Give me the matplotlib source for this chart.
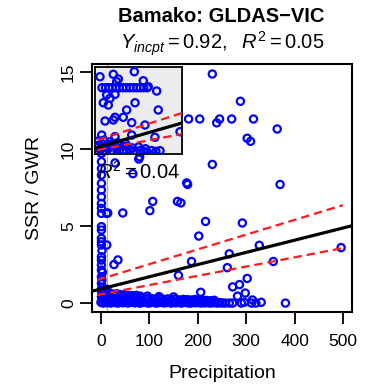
import matplotlib
matplotlib.use("Agg")
import matplotlib.pyplot as plt

plt.rcParams['font.family'] = ['Liberation Sans', 'DejaVu Sans']
plt.rcParams['mathtext.fontset'] = 'custom'
plt.rcParams['mathtext.rm'] = 'Liberation Sans'
plt.rcParams['mathtext.it'] = 'Liberation Sans:italic'

# ---------------- data ----------------
title = "Bamako: GLDAS\u2212VIC"
subtitle = r"$Y_{incpt} = 0.92,\ \ R^2 = 0.05$"
inset_text = r"$R^2 = 0.04$"
xlabel = "Precipitation"
ylabel = "SSR / GWR"
xticks = [0, 100, 200, 300, 400, 500]
yticks = [0, 5, 10, 15]

# scattered points
scatter_x = [230, 288, 181, 204, 245, 239, 270, 315, 364, 302, 309, 230, 179, 370,
             29, 78, 66, 177, 107, 101, 158, 45, 14, 35, 27, 160,
             165, 216, 292, 202, 327, 265, 187, 356, 496, 261, 302, 286, 272,
             206, 298, 282, 80]
scatter_y = [14.87, 13.1, 11.95, 11.95, 11.95, 11.7, 11.95, 11.95, 11.3, 10.7, 10.5, 9.0, 7.7, 7.7,
             9.1, 9.35, 8.4, 7.8, 6.6, 6.0, 6.6, 5.85, 5.85, 2.8, 2.5, 1.8,
             6.5, 5.3, 5.2, 4.35, 3.75, 3.2, 2.7, 2.7, 3.6, 2.3, 1.6, 1.2, 1.05,
             0.7, 0.65, 0.45, 9.5]

# column of points at very low precipitation
column_x = [1, 1, 1, 1, 1, 1,
            1, 1, 1, 1, 1, 1,
            1, 1, 1, 1, 1, 1,
            1, 1, 1, 1, 1, 1,
            12, 12, 12, 2, 2, 2, 3, 3]
column_y = [9.9, 9.72, 9.18, 8.74, 8.31, 7.77,
            7.34, 6.9, 6.47, 6.15, 5.82, 4.96,
            4.74, 4.2, 3.98, 3.77, 3.01, 2.79,
            2.47, 2.14, 1.71, 1.28, 0.84, 0.41,
            5.82, 3.77, 0.9, 3.4, 1.5, 1.0, 2.0, 0.6]

# dense band of points near zero
band_x = [0, 4, 8, 12, 16, 20, 25, 30, 35, 40, 45, 50, 55, 60, 65, 70, 75, 80, 85, 90,
          95, 100, 105, 110, 115, 120, 125, 130, 135, 140, 145, 150, 155, 160, 165, 170,
          175, 180, 185, 190, 195, 200, 205, 210, 215, 220, 225, 230, 235, 240, 245, 250, 256,
          3, 10, 18, 26, 34, 42, 50, 58, 66, 74, 82, 90, 98, 106, 114, 122, 130, 138, 146,
          154, 162, 170, 178, 186, 194, 202, 210, 218, 226, 234,
          2, 9, 17, 25, 33, 41, 49, 57, 65, 73, 81, 96, 120, 150,
          272, 290, 296, 311, 313, 331, 381, 265, 320]
band_y = [0.05, 0.0, 0.08, 0.02, 0.06, 0.0, 0.05, 0.03, 0.0, 0.06, 0.02, 0.05, 0.0, 0.04,
          0.06, 0.01, 0.05, 0.0, 0.03, 0.06, 0.02, 0.0, 0.05, 0.03, 0.0, 0.04, 0.06, 0.01,
          0.03, 0.05, 0.0, 0.04, 0.02, 0.06, 0.0, 0.03, 0.05, 0.01, 0.0, 0.04, 0.02, 0.05,
          0.0, 0.03, 0.01, 0.04, 0.0, 0.02, 0.03, 0.0, 0.02, 0.01, 0.0,
          0.35, 0.3, 0.38, 0.28, 0.33, 0.3, 0.36, 0.27, 0.32, 0.3, 0.34, 0.26, 0.3, 0.28,
          0.25, 0.3, 0.24, 0.27, 0.22, 0.26, 0.2, 0.24, 0.22, 0.2, 0.23, 0.18, 0.2, 0.17,
          0.15, 0.18,
          0.7, 0.62, 0.66, 0.58, 0.6, 0.55, 0.52, 0.5, 0.48, 0.5, 0.45, 0.45, 0.42, 0.4,
          0.0, 0.0, 0.05, 0.0, 0.2, 0.05, 0.0, 0.0, 0.0]

# regression line and confidence lines (main panel)
fit_x = [-18.5, 518.5]
fit_y = [0.77, 5.02]
upper_x = [-8, 500]
upper_y = [1.49, 6.36]
lower_x = [-8, 500]
lower_y = [0.52, 3.57]

# inset panel (relative units 0-100)
inset_x = [5.7, 21.0, 45.2, 26.8, 24.9, 8, 12, 16, 20, 24, 28, 32, 36, 40, 44, 48, 52, 56, 60,
           55.5, 61.2, 70.9, 13.4, 23.0, 17.2, 9.5, 15.3, 46.0, 36.4, 72.7, 23.0, 21.0, 11.5,
           32.5, 42.2, 57.4, 97.7, 7.7, 23.0, 42.2, 68.9, 74.7,
           3, 6, 9, 12, 15, 18, 21, 25, 28, 32, 36, 40, 44, 48, 52, 56, 60, 65, 70,
           4, 8, 13, 18, 24, 30, 36, 43, 50, 58, 4, 10, 17, 26, 35]
inset_y = [88.8, 91.6, 94.6, 86.2, 83.1, 76.2, 76.2, 76.2, 76.2, 76.2, 76.2, 76.2, 76.2, 76.2,
           76.2, 76.2, 76.2, 76.2, 76.2,
           84.2, 77.3, 72.4, 67.8, 68.6, 64.0, 58.9, 56.3, 58.9, 50.6, 50.6, 42.2, 39.1, 37.9,
           42.2, 36.0, 33.3, 25.6, 21.8, 19.9, 21.8, 19.2, 3.8,
           3, 5, 2, 4, 6, 3, 2, 5, 3, 4, 2, 5, 3, 2, 4, 3, 2, 4, 3,
           10, 12, 9, 11, 8, 10, 9, 7, 8, 6, 15, 16, 14, 13, 12]
inset_fit_x = [0, 100]
inset_fit_y = [6.9, 35.6]
inset_upper_x = [3, 100]
inset_upper_y = [16.1, 47.1]
inset_lower_x = [3, 100]
inset_lower_y = [4.6, 23.0]

# ---------------- figure ----------------
W, H = 367, 389
fig = plt.figure(figsize=(W / 100, H / 100), dpi=100)
fig.patch.set_facecolor('white')

ax = fig.add_axes([92 / W, 1 - 312 / H, (352 - 92) / W, (312 - 64) / H])
ax.set_xlim(-18.5, 518.5)
ax.set_ylim(-0.58, 15.52)

mk = dict(s=27, facecolors='none', edgecolors='#0000ff', linewidths=1.6, zorder=3)
dash = (3.8, 2.2)
ax.axvline(12, color='#b0b0b0', lw=0.8, zorder=2)
ax.scatter(band_x, band_y, **mk)
ax.scatter(column_x, column_y, **mk)
ax.scatter(scatter_x, scatter_y, **mk)
ax.plot(fit_x, fit_y, color='black', lw=2.3, zorder=4)
ax.plot(upper_x, upper_y, color='#ff1a1a', lw=1.6, dashes=dash, zorder=4)
ax.plot(lower_x, lower_y, color='#ff1a1a', lw=1.6, dashes=dash, zorder=4)

ax.set_xticks(xticks)
ax.set_yticks(yticks)
ax.tick_params(axis='both', length=8.5, width=1.3, labelsize=12.5, direction='out')
ax.tick_params(axis='x', pad=7)
ax.tick_params(axis='y', labelrotation=90, pad=3)
for lab in ax.get_yticklabels():
    lab.set_va('center')
for s in ax.spines.values():
    s.set_linewidth(1.5)

ax.set_xlabel(xlabel, fontsize=14, labelpad=12)
ax.set_ylabel(ylabel, fontsize=14, labelpad=13)

ax.text(-9, 8.5, inset_text, fontsize=14.5, ha='left', va='center', zorder=5)

fig.text(221 / W, 1 - 17 / H, title, fontsize=14.5, fontweight='bold', ha='center', va='center')
fig.text(222 / W, 1 - 44 / H, subtitle, fontsize=14.5, ha='center', va='center')

# inset
iax = fig.add_axes([95 / W, 1 - 154 / H, 87 / W, 87 / H])
iax.set_facecolor('#ececee')
iax.set_xlim(0, 100)
iax.set_ylim(0, 100)
iax.set_xticks([])
iax.set_yticks([])
for s in iax.spines.values():
    s.set_linewidth(1.3)
iax.scatter(inset_x, inset_y, **mk)
iax.plot(inset_fit_x, inset_fit_y, color='black', lw=2.3, zorder=4)
iax.plot(inset_upper_x, inset_upper_y, color='#ff1a1a', lw=1.6, dashes=dash, zorder=4)
iax.plot(inset_lower_x, inset_lower_y, color='#ff1a1a', lw=1.6, dashes=dash, zorder=4)

fig.savefig("out.png", dpi=100)
